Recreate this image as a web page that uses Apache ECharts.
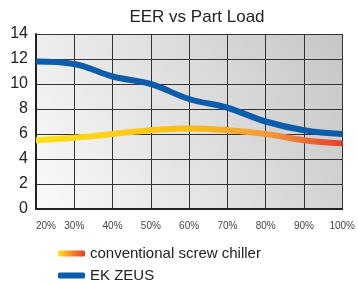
<!DOCTYPE html>
<html>
<head>
<meta charset="utf-8">
<script src="https://cdn.jsdelivr.net/npm/echarts@6/dist/echarts.min.js"></script>
<style>
  html, body { margin: 0; padding: 0; background: #fff; }
  #main { width: 358px; height: 284px; }
</style>
</head>
<body>
<div id="main"></div>
<script>
var loads = ['20%', '30%', '40%', '50%', '60%', '70%', '80%', '90%', '100%'];
var screwChiller = [5.5, 5.7, 6.0, 6.3, 6.45, 6.3, 6.0, 5.5, 5.25];
var ekZeus = [11.8, 11.6, 10.6, 10.0, 8.8, 8.1, 7.0, 6.3, 6.0];

var myChart = echarts.init(document.getElementById('main'));

var warm = new echarts.graphic.LinearGradient(0, 0, 1, 0, [
  { offset: 0, color: '#ffe21c' },
  { offset: 0.5, color: '#fbbd12' },
  { offset: 0.75, color: '#f39c3a' },
  { offset: 1, color: '#e8392f' }
]);
var blue = '#0b5cab';

var option = {
  animation: false,
  title: {
    text: 'EER vs Part Load',
    left: 192,
    textAlign: 'center',
    top: 4,
    textStyle: { fontFamily: 'Liberation Sans', fontSize: 17, fontWeight: 'normal', color: '#222' }
  },
  legend: {
    orient: 'vertical',
    left: 53,
    top: 241,
    height: 44,
    itemGap: 7,
    itemWidth: 27,
    itemHeight: 6,
    icon: 'roundRect',
    textStyle: { fontFamily: 'Liberation Sans', fontSize: 15, color: '#222' },
    data: [
      { name: 'conventional screw chiller', itemStyle: { color: new echarts.graphic.LinearGradient(0, 0, 1, 0, [
        { offset: 0, color: '#ffe21c' }, { offset: 1, color: '#e8392f' }]) } },
      { name: 'EK ZEUS', itemStyle: { color: blue } }
    ]
  },
  grid: {
    left: 36, right: 9, top: 34, bottom: 75,
    show: true,
    borderWidth: 0,
    backgroundColor: new echarts.graphic.LinearGradient(0, 1, 1, 0, [
      { offset: 0, color: '#fafafa' },
      { offset: 1, color: '#c6c6c6' }
    ])
  },
  xAxis: {
    type: 'category',
    data: loads,
    boundaryGap: false,
    axisLine: { lineStyle: { color: '#222', width: 2 } },
    axisTick: { show: false },
    splitLine: { show: true, lineStyle: { color: '#333', width: 1 } },
    axisLabel: {
      margin: 12,
      fontFamily: 'Liberation Sans',
      fontSize: 10,
      color: '#444',
      alignMinLabel: 'left'
    }
  },
  yAxis: {
    type: 'value',
    min: 0,
    max: 14,
    interval: 2,
    axisLine: { show: true, lineStyle: { color: '#222', width: 2 } },
    axisTick: { show: false },
    splitLine: { lineStyle: { color: '#333', width: 1 } },
    axisLabel: { margin: 8, fontFamily: 'Liberation Sans', fontSize: 16, color: '#222' }
  },
  series: [
    {
      name: 'conventional screw chiller',
      type: 'line',
      smooth: 0.4,
      symbol: 'none',
      data: screwChiller,
      lineStyle: { width: 6, color: warm },
      itemStyle: { color: '#f5a623' }
    },
    {
      name: 'EK ZEUS',
      type: 'line',
      smooth: 0.4,
      symbol: 'none',
      data: ekZeus,
      lineStyle: { width: 6, color: blue },
      itemStyle: { color: blue }
    }
  ]
};
myChart.setOption(option);
</script>
</body>
</html>
